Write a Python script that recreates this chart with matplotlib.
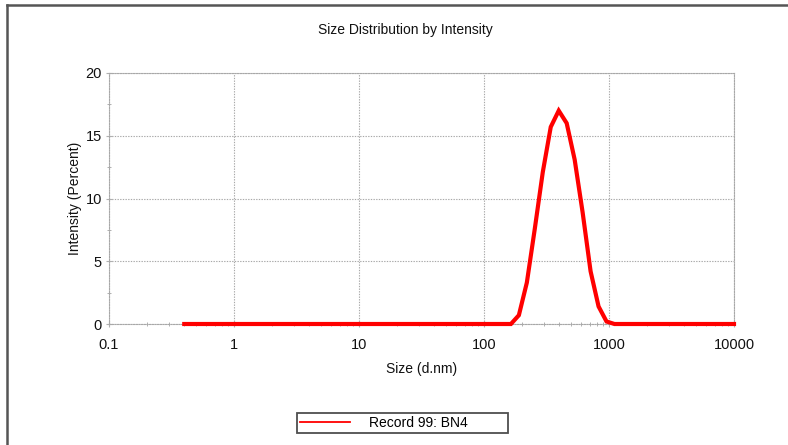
import matplotlib
matplotlib.use("Agg")
import matplotlib.pyplot as plt
from matplotlib.lines import Line2D
from matplotlib.ticker import FixedLocator, FixedFormatter, LogLocator, NullFormatter

plt.rcParams['font.family'] = ['Liberation Sans', 'DejaVu Sans']

title = "Size Distribution by Intensity"
x_label = "Size (d.nm)"
y_label = "Intensity (Percent)"
series_name = "Record 99: BN4"

size_nm = [0.4, 0.4632, 0.5365, 0.6213, 0.7195, 0.8332, 0.9649, 1.117, 1.294, 1.499,
           1.736, 2.01, 2.328, 2.696, 3.122, 3.615, 4.187, 4.849, 5.615, 6.503,
           7.531, 8.721, 10.1, 11.7, 13.54, 15.69, 18.17, 21.04, 24.36, 28.21,
           32.67, 37.84, 43.82, 50.75, 58.77, 68.06, 78.82, 91.28, 105.7, 122.4,
           141.8, 164.2, 190.1, 220.2, 255.0, 295.3, 342.0, 396.1, 458.7, 531.2,
           615.1, 712.4, 825.0, 955.4, 1106, 1281, 1484, 1718, 1990, 2305,
           2669, 3091, 3580, 4145, 4801, 5560, 6439, 7456, 8635, 10000]

intensity = [0.0] * 41 + [0.0, 0.7, 3.3, 7.6, 12.1, 15.7, 17.0, 16.0, 13.1, 8.9, 4.2, 1.4, 0.2] + [0.0] * 16

x_ticks = [0.1, 1, 10, 100, 1000, 10000]
x_tick_labels = ["0.1", "1", "10", "100", "1000", "10000"]
y_ticks = [0, 5, 10, 15, 20]
y_tick_labels = ["0", "5", "10", "15", "20"]

W, H = 788, 445
fig = plt.figure(figsize=(W / 100, H / 100), dpi=100)
ax = fig.add_axes([109 / W, (H - 324) / H, 625 / W, 251 / H])

ax.plot(size_nm, intensity, color="#ff0000", lw=3.0, solid_joinstyle="miter", zorder=3,
        clip_on=False)

ax.set_xscale("log")
ax.set_xlim(0.1, 10000)
ax.set_ylim(0, 20)

ax.xaxis.set_major_locator(FixedLocator(x_ticks))
ax.xaxis.set_major_formatter(FixedFormatter(x_tick_labels))
ax.xaxis.set_minor_locator(LogLocator(base=10, subs=range(2, 10), numticks=20))
ax.xaxis.set_minor_formatter(NullFormatter())
ax.yaxis.set_major_locator(FixedLocator(y_ticks))
ax.yaxis.set_major_formatter(FixedFormatter(y_tick_labels))
ax.yaxis.set_minor_locator(FixedLocator([2.5, 7.5, 12.5, 17.5]))

ax.grid(True, which="major", color="#a8a8a8", linestyle=(0, (1.2, 1.2)), lw=0.8)
for s in ax.spines.values():
    s.set_color("#a8a8a8")
    s.set_linestyle((0, (1.2, 1.2)))
    s.set_linewidth(0.8)

ax.tick_params(which="both", direction="inout", color="#b0b0b0", labelsize=10.5,
               labelcolor="#111111")
ax.tick_params(which="major", length=4, width=0.8)
ax.tick_params(which="minor", length=3, width=0.7)
ax.tick_params(axis="x", which="major", pad=8)
ax.tick_params(axis="y", which="major", pad=3)

ax.set_xlabel(x_label, fontsize=10, labelpad=7, color="#111111")
ax.set_ylabel(y_label, fontsize=10, labelpad=3, color="#111111")

fig.text(405 / W, 1 - 30 / H, title, ha="center", va="center", fontsize=10, color="#111111")

# figure frame (top and left edges)
fig.add_artist(Line2D([7 / W, 1.0], [1 - 5 / H, 1 - 5 / H], transform=fig.transFigure,
                      color="#555555", lw=1.8))
fig.add_artist(Line2D([7 / W, 7 / W], [0.0, 1 - 5 / H], transform=fig.transFigure,
                      color="#555555", lw=1.8))

handle = Line2D([], [], color="#ff0000", lw=1.3)
leg = fig.legend([handle], [series_name], loc="center",
                 bbox_to_anchor=(297 / W, 1 - 434 / H, 211 / W, 22 / H), mode="expand",
                 frameon=True, fancybox=False, fontsize=10, handlelength=3.6,
                 borderpad=0.25, borderaxespad=0, handletextpad=1.3)
leg.get_frame().set_edgecolor("#222222")
leg.get_frame().set_linewidth(1.3)

fig.savefig("out.png", dpi=100)
